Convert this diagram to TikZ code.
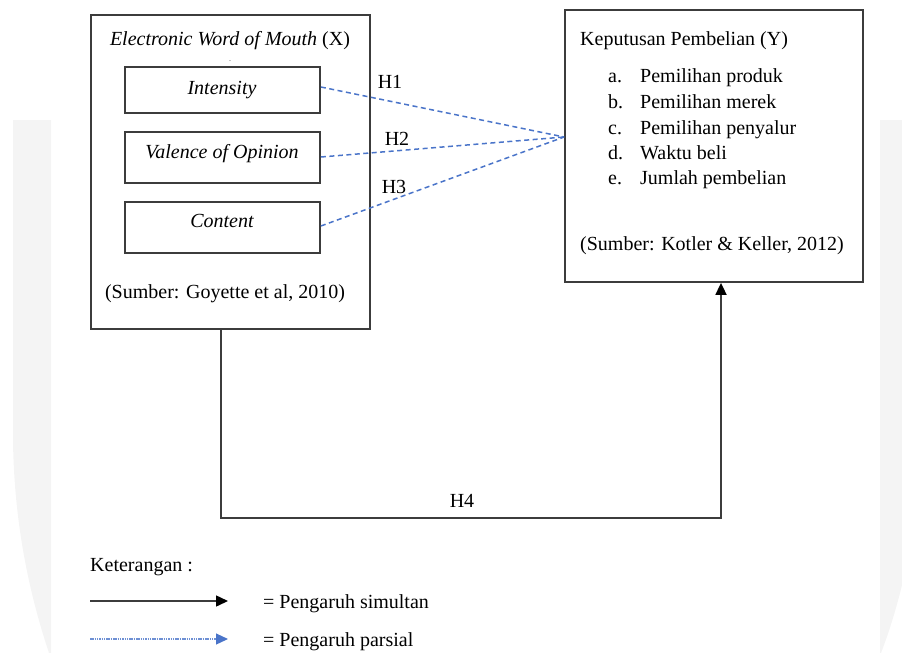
\documentclass[tikz,border=0pt]{standalone}
\usepackage{fontspec}
\setmainfont{Liberation Serif}
\usetikzlibrary{arrows.meta,calc}
\definecolor{wm}{HTML}{F4F4F4}
\definecolor{bx}{HTML}{3C3C3C}
\definecolor{bl}{HTML}{4A74C9}
\begin{document}
\begin{tikzpicture}[x=1pt,y=-1pt,
  font=\fontsize{20}{24}\selectfont,
  box/.style={draw=bx, line width=1.8pt, inner sep=0pt},
  txt/.style={inner sep=0pt, anchor=base},
  ltxt/.style={inner sep=0pt, anchor=base west},
  part/.style={draw=bl, line width=1.5pt, dash pattern=on 5pt off 3.5pt},
  simul/.style={draw=bx, line width=1.8pt, -{Triangle[length=12pt,width=11pt,color=black]}},
  leg/.style={draw=bl!80, line width=1.2pt, dash pattern=on 1.5pt off 0.8pt, -{Triangle[length=12pt,width=11pt,color=bl]}}]
\useasboundingbox (0,0) rectangle (902,653);
% watermark
\fill[wm] (13,120) -- (51,120) -- (51,653) -- (49,653) .. controls (28,590) and (14,520) .. (13,440) -- cycle;
\fill[wm] (880,120) -- (902,120) -- (902,585) .. controls (896,610) and (888,635) .. (881,653) -- (880,653) -- cycle;
% left box
\node[box, minimum width=279pt, minimum height=314pt] (X) at (230.5,172) {};
\node[txt] (Xt) at (230,45) {\itshape Electronic Word of Mouth \upshape(X)};
\node[txt, font=\fontsize{8}{8}\selectfont, text=bx] (dot) at (230,61) {.};
\node[box, minimum width=195pt, minimum height=46pt] (I) at (222.5,90) {};
\node[box, minimum width=195pt, minimum height=51pt] (V) at (222.5,157.5) {};
\node[box, minimum width=195pt, minimum height=51pt] (C) at (222.5,227.5) {};
\node[txt] (It) at (222,94) {\itshape Intensity};
\node[txt] (Vt) at (222,158) {\itshape Valence of Opinion};
\node[txt] (Ct) at (222,227) {\itshape Content};
\node[txt] (Xs) at (225,298) {(Sumber: Goyette et al, 2010)};
% right box
\node[box, minimum width=298pt, minimum height=272pt] (Y) at (714,146) {};
\node[ltxt] (Yt) at (580,45) {Keputusan Pembelian (Y)};
\node[ltxt] (ya) at (608,82) {a.};
\node[ltxt] (yb) at (608,108) {b.};
\node[ltxt] (yc) at (608,134) {c.};
\node[ltxt] (yd) at (608,159) {d.};
\node[ltxt] (ye) at (608,184) {e.};
\node[ltxt] (yat) at (640,82) {Pemilihan produk};
\node[ltxt] (ybt) at (640,108) {Pemilihan merek};
\node[ltxt] (yct) at (640,134) {Pemilihan penyalur};
\node[ltxt] (ydt) at (640,159) {Waktu beli};
\node[ltxt] (yet) at (640,184) {Jumlah pembelian};
\node[ltxt] (Ys) at (580,250) {(Sumber: Kotler \& Keller, 2012)};
% partial links
\coordinate (conv) at ($(Y.west)+(0,-9)$);
\draw[part] (I.east |- 0,87) -- (conv);
\draw[part] (V.east |- 0,157) -- (conv);
\draw[part] (C.east |- 0,226) -- (conv);
\node[txt] (h1) at (390,88) {H1};
\node[txt] (h2) at (397,145) {H2};
\node[txt] (h3) at (394,193) {H3};
% simultaneous link
\draw[simul] ([xshift=-9.5pt]X.south) -- ++(0,188) -| ([xshift=7pt]Y.south);
\node[txt] (h4) at (462,507) {H4};
% legend
\node[ltxt] (ket) at (90,571) {Keterangan :};
\coordinate (l1a) at (90,601);
\coordinate (l1b) at (228,601);
\coordinate (l2a) at (90,639);
\coordinate (l2b) at (228,639);
\draw[simul, line width=1.5pt] (l1a) -- (l1b);
\draw[leg] (l2a) -- (l2b);
\node[ltxt] (s1) at (263,608) {= Pengaruh simultan};
\node[ltxt] (s2) at (263,646) {= Pengaruh parsial};
\end{tikzpicture}
\end{document}
